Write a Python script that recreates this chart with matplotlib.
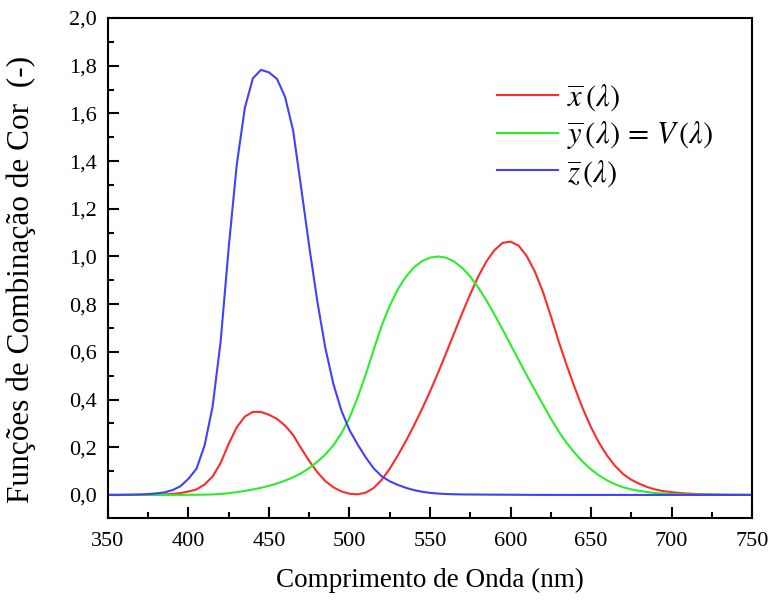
import matplotlib
matplotlib.use("Agg")
import matplotlib.pyplot as plt
from matplotlib.ticker import MultipleLocator, FuncFormatter

wavelength = [350, 355, 360, 365, 370, 375, 380, 385, 390, 395, 400, 405, 410, 415, 420, 425,
              430, 435, 440, 445, 450, 455, 460, 465, 470, 475, 480, 485, 490, 495, 500,
              505, 510, 515, 520, 525, 530, 535, 540, 545, 550, 555, 560, 565, 570, 575,
              580, 585, 590, 595, 600, 605, 610, 615, 620, 625, 630, 635, 640, 645, 650,
              655, 660, 665, 670, 675, 680, 685, 690, 695, 700, 705, 710, 715, 720, 725,
              730, 735, 740, 745, 750]
x_bar = [0.0, 0.0, 0.00013, 0.00023, 0.00042, 0.00074, 0.00137, 0.00224, 0.00424, 0.00765,
         0.01431, 0.02319, 0.04351, 0.07763, 0.13438, 0.21477, 0.2839, 0.3285, 0.34828,
         0.34806, 0.3362, 0.3187, 0.2908, 0.2511, 0.19536, 0.1421, 0.09564, 0.05795,
         0.03201, 0.0147, 0.0049, 0.0024, 0.0093, 0.0291, 0.06327, 0.1096, 0.1655,
         0.22575, 0.2904, 0.3597, 0.43345, 0.51205, 0.5945, 0.6784, 0.7621, 0.8425,
         0.9163, 0.9786, 1.0263, 1.0567, 1.0622, 1.0456, 1.0026, 0.9384, 0.85445,
         0.7514, 0.6424, 0.5419, 0.4479, 0.3608, 0.2835, 0.2187, 0.1649, 0.1212,
         0.0874, 0.0636, 0.04677, 0.0329, 0.0227, 0.01584, 0.01136, 0.00811, 0.00579,
         0.00411, 0.0029, 0.00205, 0.00144, 0.001, 0.00069, 0.00048, 0.00033]
y_bar = [0.0, 0.0, 0.0000039, 0.000007, 0.000012, 0.000022, 0.000039, 0.000064, 0.00012,
         0.000217, 0.000396, 0.00064, 0.00121, 0.00218, 0.004, 0.0073, 0.0116, 0.01684,
         0.023, 0.0298, 0.038, 0.048, 0.06, 0.0739, 0.09098, 0.1126, 0.13902, 0.1693,
         0.20802, 0.2586, 0.323, 0.4073, 0.503, 0.6082, 0.71, 0.7932, 0.862, 0.91485,
         0.954, 0.9803, 0.99495, 1.0, 0.995, 0.9786, 0.952, 0.9154, 0.87, 0.8163,
         0.757, 0.6949, 0.631, 0.5668, 0.503, 0.4412, 0.381, 0.321, 0.265, 0.217,
         0.175, 0.1382, 0.107, 0.0816, 0.061, 0.04458, 0.032, 0.0232, 0.017, 0.01192,
         0.00821, 0.00572, 0.0041, 0.00293, 0.00209, 0.00148, 0.00105, 0.00074,
         0.00052, 0.00036, 0.00025, 0.00017, 0.00012]
z_bar = [0.0, 0.0, 0.000606, 0.001086, 0.001946, 0.003486, 0.00645, 0.01055, 0.02005,
         0.03621, 0.06785, 0.1102, 0.2074, 0.3713, 0.6456, 1.03905, 1.3856, 1.62296,
         1.74706, 1.7826, 1.77211, 1.7441, 1.6692, 1.5281, 1.28764, 1.0419, 0.81295,
         0.6162, 0.46518, 0.3533, 0.272, 0.2123, 0.1582, 0.1117, 0.07825, 0.05725,
         0.04216, 0.02984, 0.0203, 0.0134, 0.00875, 0.00575, 0.0039, 0.00275, 0.0021,
         0.0018, 0.00165, 0.0014, 0.0011, 0.001, 0.0008, 0.0006, 0.00034, 0.00024,
         0.00019, 0.0001, 0.00005, 0.00003, 0.00002, 0.00001, 0.0, 0.0, 0.0, 0.0, 0.0,
         0.0, 0.0, 0.0, 0.0, 0.0, 0.0, 0.0, 0.0, 0.0, 0.0, 0.0, 0.0, 0.0, 0.0, 0.0, 0.0]

labels = [r'$\overline{x}\,(\lambda)$',
          r'$\overline{y}\,(\lambda)\,=\,V\,(\lambda)$',
          r'$\overline{z}\,(\lambda)$']
colors = ['#ff2a2a', '#2aee2a', '#4040ff']

plt.rcParams['font.family'] = ['Liberation Serif', 'DejaVu Serif']
plt.rcParams['mathtext.fontset'] = 'stix'

fig = plt.figure(figsize=(7.74, 6.01), dpi=100)
ax = fig.add_axes([0.1395, 0.138, 0.8321, 0.832])

for series, lab, col in zip([x_bar, y_bar, z_bar], labels, colors):
    ax.plot(wavelength, series, color=col, lw=1.5, label=lab)

ax.set_xlim(350, 750)
ax.set_ylim(-0.097, 2.0)
ax.xaxis.set_major_locator(MultipleLocator(50))
ax.xaxis.set_minor_locator(MultipleLocator(25))
ax.yaxis.set_major_locator(MultipleLocator(0.2))
ax.yaxis.set_minor_locator(MultipleLocator(0.1))
ax.yaxis.set_major_formatter(FuncFormatter(lambda v, p: f"{v:.1f}".replace('.', ',')))
ax.tick_params(which='both', direction='in', top=False, right=False, labelsize=16, width=1.5)
ax.tick_params(which='major', length=8)
ax.tick_params(which='minor', length=4)
ax.tick_params(axis='x', which='major', pad=10)
ax.tick_params(axis='y', which='major', pad=8)
for s in ax.spines.values():
    s.set_linewidth(1.5)

ax.set_xlabel('Comprimento de Onda (nm)', fontsize=19.5, labelpad=12)
ax.set_ylabel('Funções de Combinação de Cor  (-)', fontsize=22.5)
ax.yaxis.set_label_coords(-0.112, 0.478)

leg = ax.legend(loc='upper left', bbox_to_anchor=(0.604, 0.872), frameon=False, fontsize=22,
                handlelength=2.0, labelspacing=0.2, handletextpad=0.3,
                borderpad=0, borderaxespad=0)

fig.savefig('out.png', dpi=100)
